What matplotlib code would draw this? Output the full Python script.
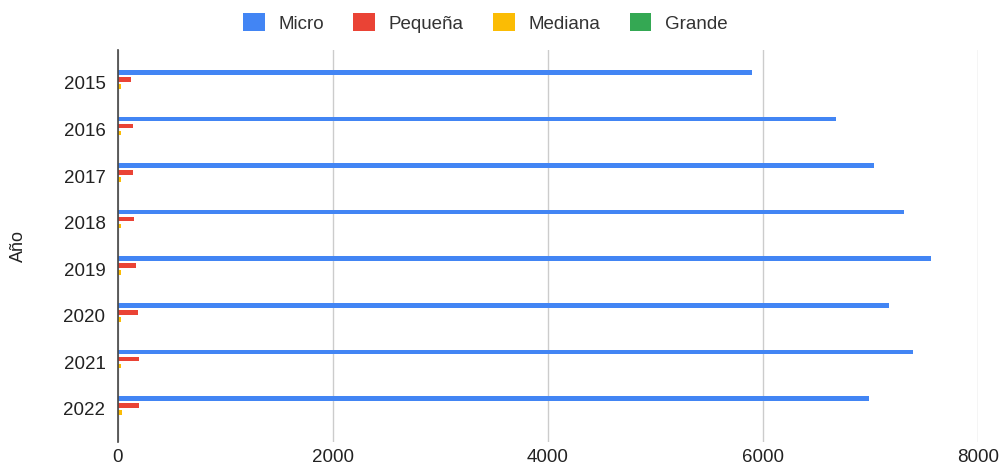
import matplotlib.pyplot as plt
import numpy as np

plt.rcParams['font.family'] = ['Liberation Sans', 'DejaVu Sans']

# data
years = ['2015', '2016', '2017', '2018', '2019', '2020', '2021', '2022']
micro = [5900, 6680, 7030, 7310, 7560, 7170, 7395, 6985]
pequena = [120, 140, 140, 150, 170, 190, 195, 195]
mediana = [25, 25, 28, 25, 30, 28, 30, 40]
grande = [4, 4, 4, 4, 5, 5, 5, 5]

series = [('Micro', micro, '#4285F4'),
          ('Pequeña', pequena, '#EA4335'),
          ('Mediana', mediana, '#FBBC04'),
          ('Grande', grande, '#34A853')]

fig = plt.figure(figsize=(10.03, 4.66), dpi=100)
ax = fig.add_axes([0.1176, 0.0515, 0.8574, 0.8415])

y = np.arange(len(years))
offsets = [-0.225, -0.075, 0.075, 0.225]
for (name, vals, col), off in zip(series, offsets):
    ax.barh(y + off, vals, height=0.1, color=col, label=name, zorder=3)

ax.set_ylim(len(years) - 1 + 0.71, -0.71)
ax.set_xlim(0, 8000)
ax.set_xticks([0, 2000, 4000, 6000, 8000])
ax.set_yticks(y)
ax.set_yticklabels(years)
ax.grid(axis='x', color='#cccccc', linewidth=1, zorder=0)
for s in ['top', 'right', 'bottom']:
    ax.spines[s].set_visible(False)
ax.spines['left'].set_color('#444444')
ax.spines['left'].set_linewidth(1.2)
ax.spines['left'].set_zorder(4)
ax.tick_params(length=0, labelsize=13.5, colors='#222222')
ax.tick_params(axis='x', pad=5)
ax.tick_params(axis='y', pad=9)
ax.set_ylabel('Año', fontsize=13, color='#222222', labelpad=26)

fig.legend(loc='center', bbox_to_anchor=(0.484, 0.951), ncol=4, frameon=False,
           fontsize=13.5, handlelength=1.15, handleheight=1.1, columnspacing=1.55,
           handletextpad=0.75, labelcolor='#333333')

fig.savefig('out.png', dpi=100)
